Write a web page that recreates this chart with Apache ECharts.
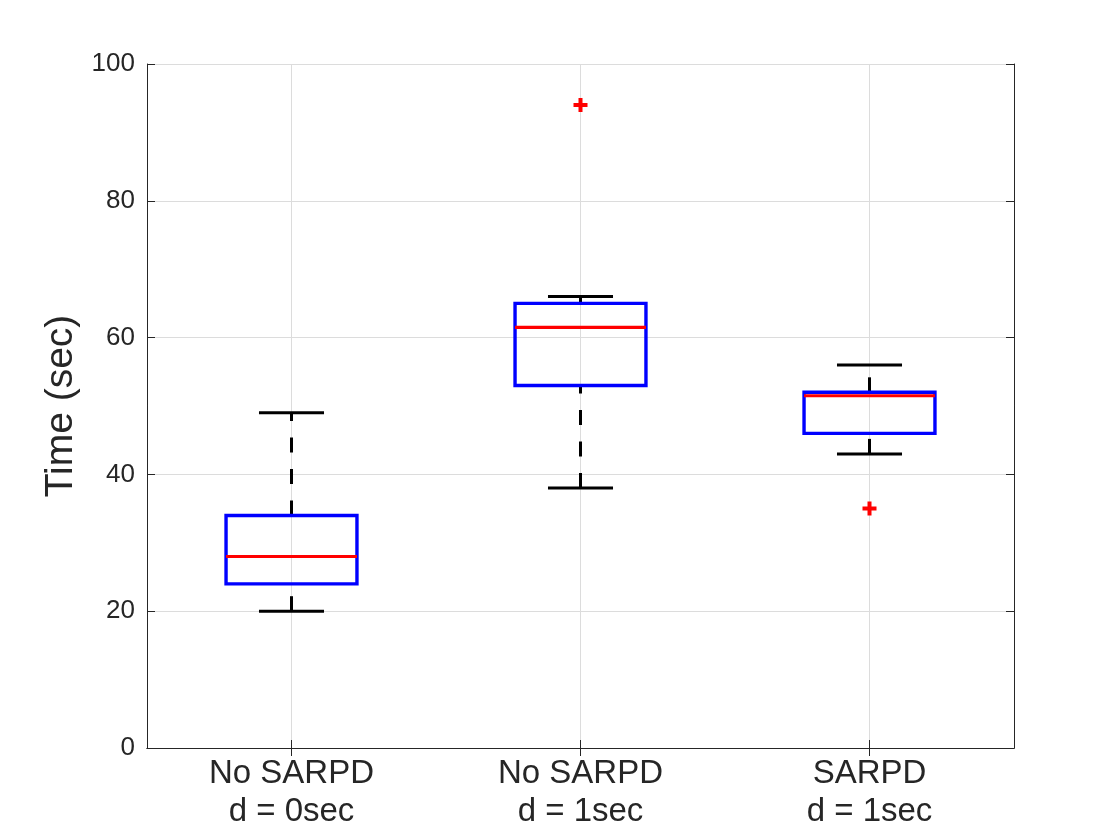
<!DOCTYPE html>
<html>
<head>
<meta charset="utf-8">
<title>Time boxplot</title>
<script src="https://cdn.jsdelivr.net/npm/echarts@6/dist/echarts.min.js"></script>
<style>
    html, body { margin: 0; padding: 0; background: #fff; }
    #chart { width: 1120px; height: 840px; }
</style>
</head>
<body>
<div id="chart"></div>
<script>
// box statistics, one entry per group
var categories = ['No SARPD\nd = 0sec', 'No SARPD\nd = 1sec', 'SARPD\nd = 1sec'];
var positions = [1, 2, 3];
var whiskerLow = [20, 38, 43];
var quart1 = [24, 53, 46];
var medians = [28, 61.5, 51.5];
var quart3 = [34, 65, 52];
var whiskerHigh = [49, 66, 56];

// outliers (red +)
var outlierX = [2, 3];
var outlierY = [94, 35];

var yTicks = [0, 20, 40, 60, 80, 100];

var FONT = '"Liberation Sans", Arial, Helvetica, sans-serif';
var AXIS_COLOR = '#262626';
var GRID_COLOR = '#dcdcdc';

var boxData = [];
for (var i = 0; i < positions.length; i++) {
    boxData.push([positions[i], whiskerLow[i], quart1[i], medians[i], quart3[i], whiskerHigh[i]]);
}
var outlierData = [];
for (var j = 0; j < outlierX.length; j++) {
    outlierData.push([outlierX[j], outlierY[j]]);
}

function renderBox(params, api) {
    var x = api.value(0);
    var unit = api.size([1, 0])[0];
    var halfBox = unit * 0.2265;
    var halfCap = unit * 0.1125;

    var pLow = api.coord([x, api.value(1)]);
    var pQ1 = api.coord([x, api.value(2)]);
    var pMed = api.coord([x, api.value(3)]);
    var pQ3 = api.coord([x, api.value(4)]);
    var pHigh = api.coord([x, api.value(5)]);
    var cx = pMed[0];

    var dashStyle = { stroke: '#000', lineWidth: 3, lineDash: [15, 16.5], lineCap: 'butt' };
    var solidBlack = { stroke: '#000', lineWidth: 3, lineCap: 'butt' };

    return {
        type: 'group',
        children: [
            // lower whisker, drawn from the bottom upwards
            { type: 'line', shape: { x1: cx, y1: pLow[1], x2: cx, y2: pQ1[1] }, style: dashStyle },
            // upper whisker
            { type: 'line', shape: { x1: cx, y1: pQ3[1], x2: cx, y2: pHigh[1] }, style: dashStyle },
            { type: 'line', shape: { x1: cx - halfCap, y1: pLow[1], x2: cx + halfCap, y2: pLow[1] }, style: solidBlack },
            { type: 'line', shape: { x1: cx - halfCap, y1: pHigh[1], x2: cx + halfCap, y2: pHigh[1] }, style: solidBlack },
            {
                type: 'rect',
                shape: { x: cx - halfBox, y: pQ3[1], width: halfBox * 2, height: pQ1[1] - pQ3[1] },
                style: { fill: 'none', stroke: '#0000ff', lineWidth: 3.4 }
            },
            { type: 'line', shape: { x1: cx - halfBox, y1: pMed[1], x2: cx + halfBox, y2: pMed[1] },
              style: { stroke: '#ff0000', lineWidth: 3.2, lineCap: 'butt' } }
        ]
    };
}

var chart = echarts.init(document.getElementById('chart'));

var xTickStyle = { show: true, inside: true, length: 8, lineStyle: { color: AXIS_COLOR, width: 1 }, customValues: positions };
var yTickStyle = { show: true, inside: true, length: 8, lineStyle: { color: AXIS_COLOR, width: 1 } };

var option = {
    backgroundColor: '#fff',
    animation: false,
    grid: { left: 147, right: 106, top: 64, bottom: 92 },
    xAxis: [{
        type: 'value',
        min: 0.5,
        max: 3.5,
        position: 'bottom',
        axisLine: { show: true, lineStyle: { color: AXIS_COLOR, width: 1 } },
        axisTick: xTickStyle,
        axisLabel: {
            customValues: positions,
            color: AXIS_COLOR,
            fontFamily: FONT,
            fontSize: 33,
            lineHeight: 38,
            margin: 7,
            formatter: function (v) { return categories[Math.round(v) - 1] || ''; }
        },
        splitLine: { show: true, lineStyle: { color: GRID_COLOR, width: 1 } }
    }, {
        type: 'value',
        min: 0.5,
        max: 3.5,
        position: 'top',
        axisLine: { show: true, lineStyle: { color: AXIS_COLOR, width: 1 } },
        axisTick: xTickStyle,
        axisLabel: { show: false, customValues: positions },
        splitLine: { show: false }
    }],
    yAxis: [{
        type: 'value',
        min: 0,
        max: 100,
        interval: 20,
        position: 'left',
        name: 'Time (sec)',
        nameLocation: 'middle',
        nameGap: 63,
        nameTextStyle: { color: AXIS_COLOR, fontFamily: FONT, fontSize: 39 },
        axisLine: { show: true, lineStyle: { color: AXIS_COLOR, width: 1 } },
        axisTick: yTickStyle,
        axisLabel: {
            color: AXIS_COLOR,
            fontFamily: FONT,
            fontSize: 26,
            margin: 12,
            customValues: yTicks
        },
        splitLine: { show: true, lineStyle: { color: GRID_COLOR, width: 1 } }
    }, {
        type: 'value',
        min: 0,
        max: 100,
        interval: 20,
        position: 'right',
        axisLine: { show: true, lineStyle: { color: AXIS_COLOR, width: 1 } },
        axisTick: yTickStyle,
        axisLabel: { show: false },
        splitLine: { show: false }
    }],
    series: [{
        type: 'custom',
        name: 'box',
        xAxisIndex: 0,
        yAxisIndex: 0,
        renderItem: renderBox,
        data: boxData,
        z: 3
    }, {
        type: 'scatter',
        name: 'outliers',
        xAxisIndex: 0,
        yAxisIndex: 0,
        symbol: 'path://M5,0H9V5H14V9H9V14H5V9H0V5H5Z',
        symbolSize: 14,
        itemStyle: { color: '#ff0000', opacity: 1 },
        data: outlierData,
        z: 4
    }]
};

chart.setOption(option);
</script>
</body>
</html>
